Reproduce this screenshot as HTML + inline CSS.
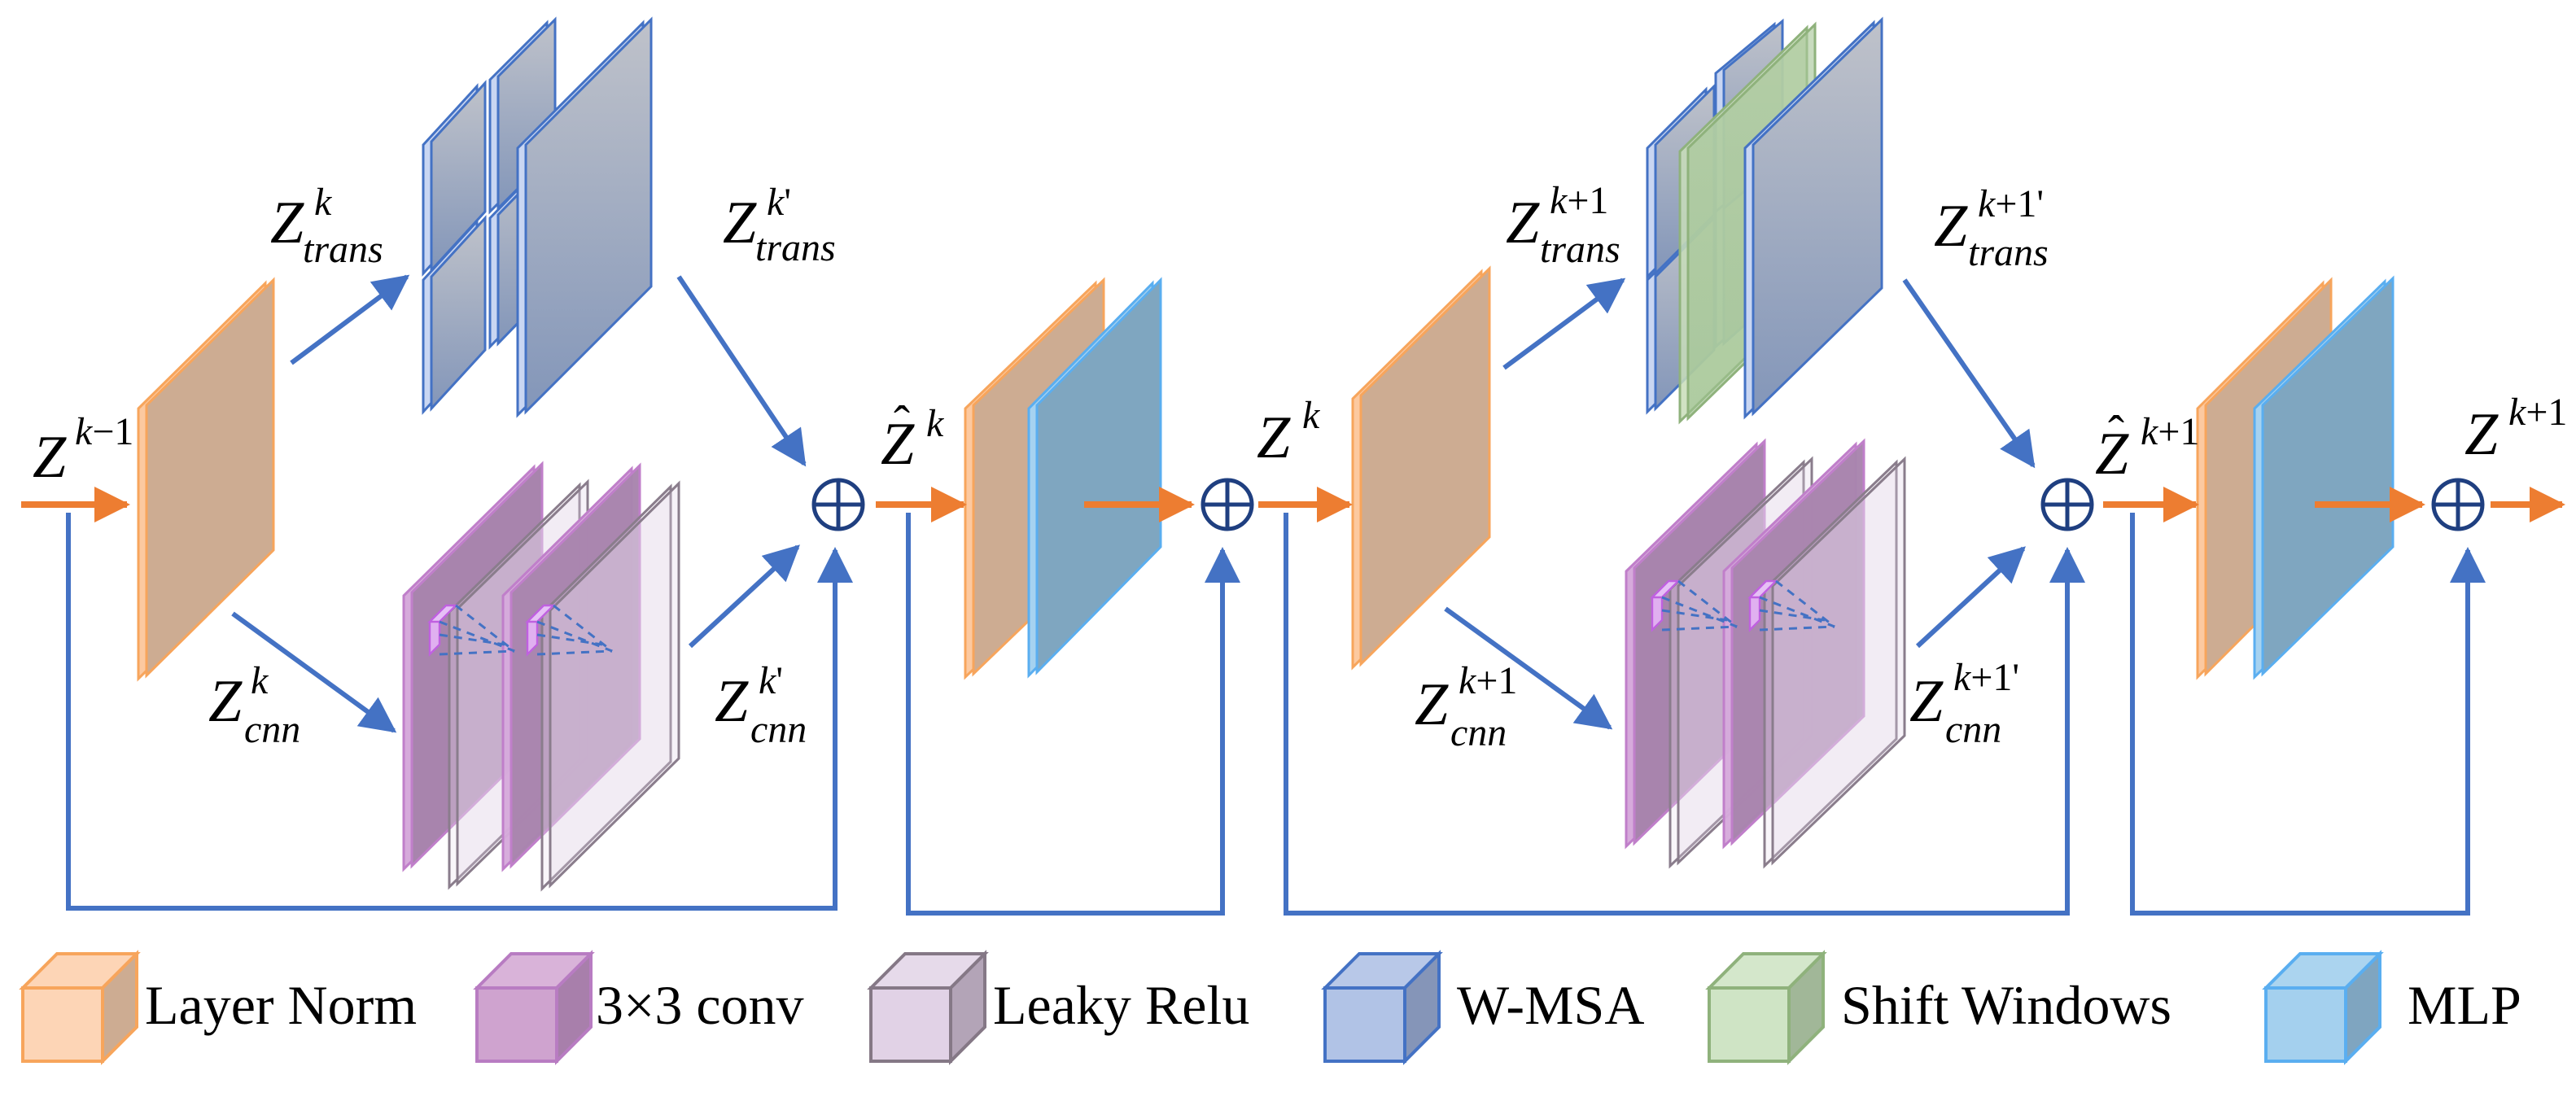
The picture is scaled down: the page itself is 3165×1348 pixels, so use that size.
<!DOCTYPE html>
<html><head><meta charset="utf-8"><style>
html,body{margin:0;padding:0;background:#fff}
svg{display:block}
text{font-family:"Liberation Serif","Times New Roman","DejaVu Serif",serif}
.z{font-style:italic;font-size:37px;fill:#000}
.s{font-style:italic;font-size:24px;fill:#000}
.u{font-style:normal}
.lg{font-size:34px;fill:#000}
</style></head><body>
<svg id="sv" width="3165" height="1348" viewBox="0 0 1582.5 674" xmlns="http://www.w3.org/2000/svg" font-family="Liberation Serif, serif">
<defs>
<linearGradient id="gb" x1="0" y1="0" x2="0" y2="1"><stop offset="0" stop-color="#bfc2ca"/><stop offset="1" stop-color="#8396b9"/></linearGradient>
<linearGradient id="gg" x1="0" y1="0" x2="0" y2="1"><stop offset="0" stop-color="#a9c79a" stop-opacity="0.75"/><stop offset="1" stop-color="#9cc08e" stop-opacity="0.75"/></linearGradient>
<marker id="ab" markerUnits="userSpaceOnUse" markerWidth="24" markerHeight="22" refX="20" refY="11" orient="auto"><path d="M0,0 L22,11 L0,22 z" fill="#4472c4"/></marker>
<marker id="ao" markerUnits="userSpaceOnUse" markerWidth="24" markerHeight="22" refX="20" refY="11" orient="auto"><path d="M0,0 L22,11 L0,22 z" fill="#ed7d31"/></marker>
</defs>
<g id="shapes"></g>
<g id="lines" fill="none"></g>

<text class="z" x="20" y="293">Z</text><text class="s" x="46" y="273">k<tspan class="u">−1</tspan></text>
<text class="z" x="166" y="149">Z</text><text class="s" x="193" y="132">k</text><text class="s" x="186" y="161">trans</text>
<text class="z" x="444" y="149">Z</text><text class="s" x="471" y="132">k<tspan class="u">'</tspan></text><text class="s" x="464" y="160">trans</text>
<text class="z" x="128" y="443">Z</text><text class="s" x="154" y="426">k</text><text class="s" x="150" y="456">cnn</text>
<text class="z" x="439" y="443">Z</text><text class="s" x="466" y="426">k<tspan class="u">'</tspan></text><text class="s" x="461" y="456">cnn</text>
<text class="z" x="541" y="285">Z</text><text class="z u" x="549" y="270" style="font-size:30px">ˆ</text><text class="s" x="569" y="268">k</text>
<text class="z" x="772" y="281">Z</text><text class="s" x="800" y="263">k</text>
<text class="z" x="925" y="149">Z</text><text class="s" x="952" y="131">k<tspan class="u">+1</tspan></text><text class="s" x="946" y="161">trans</text>
<text class="z" x="1188" y="151">Z</text><text class="s" x="1215" y="133">k<tspan class="u">+1'</tspan></text><text class="s" x="1209" y="163">trans</text>
<text class="z" x="869" y="445">Z</text><text class="s" x="896" y="426">k<tspan class="u">+1</tspan></text><text class="s" x="891" y="458">cnn</text>
<text class="z" x="1173" y="443">Z</text><text class="s" x="1200" y="424">k<tspan class="u">+1'</tspan></text><text class="s" x="1195" y="456">cnn</text>
<text class="z" x="1287" y="291">Z</text><text class="z u" x="1295" y="276" style="font-size:30px">ˆ</text><text class="s" x="1315" y="273">k<tspan class="u">+1</tspan></text>
<text class="z" x="1514" y="279">Z</text><text class="s" x="1541" y="261">k<tspan class="u">+1</tspan></text>

<g id="legend"></g>
<text class="lg" x="89" y="629">Layer Norm</text>
<text class="lg" x="366" y="629">3×3 conv</text>
<text class="lg" x="610" y="629">Leaky Relu</text>
<text class="lg" x="895" y="629">W-MSA</text>
<text class="lg" x="1131" y="629">Shift Windows</text>
<text class="lg" x="1479" y="629">MLP</text>
</svg>
<script>
var S=document.getElementById('shapes'),Lg=document.getElementById('lines'),G=document.getElementById('legend');
var h='';
function poly(p,f,s,w,o){return '<polygon points="'+p.map(function(a){return a.join(',')}).join(' ')+'" fill="'+f+'" stroke="'+s+'" stroke-width="'+(w||1.5)+'"'+(o!=null?' fill-opacity="'+o+'"':'')+'/>';}
function slab(L,tL,bL,R,tR,f,edge,s,o){
  var hh=bL-tL,e=5,r='';
  r+=poly([[L,tL+2],[R-e,tR+2],[R-e,tR+hh+2],[L,bL+2]],edge,s,1.5,o);
  r+=poly([[L+e,tL],[R,tR],[R,tR+hh],[L+e,bL]],f,s,1.5,o);
  return r;
}
var LN=['#cdac92','#fcc9a0','#f7a55c'], ML=['#7fa6c0','#a6d2f0','#5aaef0'];
var TB=['url(#gb)','#c9d6f2','#4472c4'];
var PK=['#a884ad','#d6aadb','#c07fca'], GR=['#e2d4e8','#ece2f0','#8a7d8c'];
function sl(a,c,o){h+=slab(a[0],a[1],a[2],a[3],a[4],c[0],c[1],c[2],o);}
sl([85,249,415,168,172],LN);
sl([260,170,251,298,134],TB);sl([301,132,211,341,96],TB);
sl([260,87,166,298,51],TB);sl([301,47,128,341,12],TB);
sl([318,89,253,400,12],TB);
sl([248,364,532,333,285],PK,1);sl([276,374,543,361,296],GR,0.3);
sl([309,364,532,393,286],PK,0.97);sl([333,375,544,417,297],GR,0.3);
sl([593,249,414,678,172],LN);sl([632,249,413,713,172],ML);
sl([831,243,408,915,165],LN);
sl([1012,170,251,1053,134],TB);sl([1054,123,211,1095,91],TB);
sl([1012,89,168,1053,53],TB);sl([1054,43,128,1095,13],TB);
h+=slab(1032,91,257,1115,15,'url(#gg)','#c8ddb8','#8fb27c',0.85);
sl([1072,89,254,1156,12],TB);
sl([999,349,518,1084,271],PK,1);sl([1026,360,530,1113,282],GR,0.3);
sl([1059,349,518,1145,271],PK,0.97);sl([1084,360,530,1170,282],GR,0.3);
sl([1350,249,414,1432,172],LN);sl([1385,249,414,1470,171],ML);
[[264,382],[324,382],[1015,367],[1075,367]].forEach(function(k){
 var x=k[0],y=k[1];
 h+=poly([[x,y],[x+6,y-6],[x+6,y+14],[x,y+20]],'#e0b0f0','#c060e0',1.2);
 h+=poly([[x,y],[x+10,y-10],[x+16,y-10],[x+6,y]],'#e6c0f6','#c060e0',1.2);
 h+='<g stroke="#4472c4" stroke-width="1.5" stroke-dasharray="5,4" fill="none"><line x1="'+(x+6)+'" y1="'+(y+20)+'" x2="'+(x+52)+'" y2="'+(y+18)+'"/><line x1="'+(x+16)+'" y1="'+(y-10)+'" x2="'+(x+52)+'" y2="'+(y+18)+'"/><line x1="'+(x+6)+'" y1="'+y+'" x2="'+(x+52)+'" y2="'+(y+18)+'"/><line x1="'+(x+6)+'" y1="'+(y+8)+'" x2="'+(x+46)+'" y2="'+(y+14)+'"/></g>';
});
S.innerHTML=h;
var l='';
function ln(x1,y1,x2,y2,c){l+='<line x1="'+x1+'" y1="'+y1+'" x2="'+x2+'" y2="'+y2+'" stroke="'+(c=='o'?'#ed7d31':'#4472c4')+'" stroke-width="'+(c=='o'?4:3)+'" marker-end="url(#a'+(c=='o'?'o':'b')+')"/>';}
function pl(p){l+='<polyline points="'+p+'" stroke="#4472c4" stroke-width="3"/>';}
function plus(x,y){l+='<circle cx="'+x+'" cy="'+y+'" r="15" stroke="#1f3f80" stroke-width="2.5" fill="#fff"/><line x1="'+(x-15)+'" y1="'+y+'" x2="'+(x+15)+'" y2="'+y+'" stroke="#1f3f80" stroke-width="2.5"/><line x1="'+x+'" y1="'+(y-15)+'" x2="'+x+'" y2="'+(y+15)+'" stroke="#1f3f80" stroke-width="2.5"/>';}
ln(13,310,78,310,'o');
pl('42,315 42,558 513,558 513,362');ln(513,365,513,338,'b');
ln(179,223,250,170,'b');ln(417,170,494,285,'b');
ln(143,377,242,449,'b');ln(424,397,490,336,'b');
ln(538,310,592,310,'o');ln(666,310,732,310,'o');
pl('558,315 558,561 751,561 751,362');ln(751,365,751,338,'b');
ln(773,310,829,310,'o');
pl('790,315 790,561 1270,561 1270,362');ln(1270,365,1270,338,'b');
ln(924,226,997,172,'b');ln(1170,172,1249,286,'b');
ln(888,374,989,447,'b');ln(1178,397,1243,337,'b');
ln(1292,310,1349,310,'o');ln(1422,310,1488,310,'o');
ln(1530,310,1574,310,'o');
pl('1310,315 1310,561 1516,561 1516,362');ln(1516,365,1516,338,'b');
plus(515,310);plus(754,310);plus(1270,310);plus(1510,310);
Lg.innerHTML=l;
var g='';
function cube(x,f,t,sd,s){var y=607,w=49,hh=45,d=21;
 g+=poly([[x,y],[x+d,y-d],[x+w+d,y-d],[x+w,y]],t,s,2);
 g+=poly([[x+w,y],[x+w+d,y-d],[x+w+d,y+hh-d],[x+w,y+hh]],sd,s,2);
 g+=poly([[x,y],[x+w,y],[x+w,y+hh],[x,y+hh]],f,s,2);}
cube(14,'#fdd5b6','#fdd5b6','#cdac92','#f7a55c');
cube(293,'#cfa3cf','#d9b3d9','#a87fab','#b87cc2');
cube(535,'#e1d2e6','#e6daea','#b3a4b7','#857886');
cube(814,'#b1c3e6','#b8c8e8','#8595b8','#4472c4');
cube(1050,'#cfe4c5','#d4e7cb','#a1b798','#8fb27c');
cube(1392,'#a4d0ee','#abd4ef','#7fa5c0','#5aaef0');
G.innerHTML=g;
</script>
</body></html>
